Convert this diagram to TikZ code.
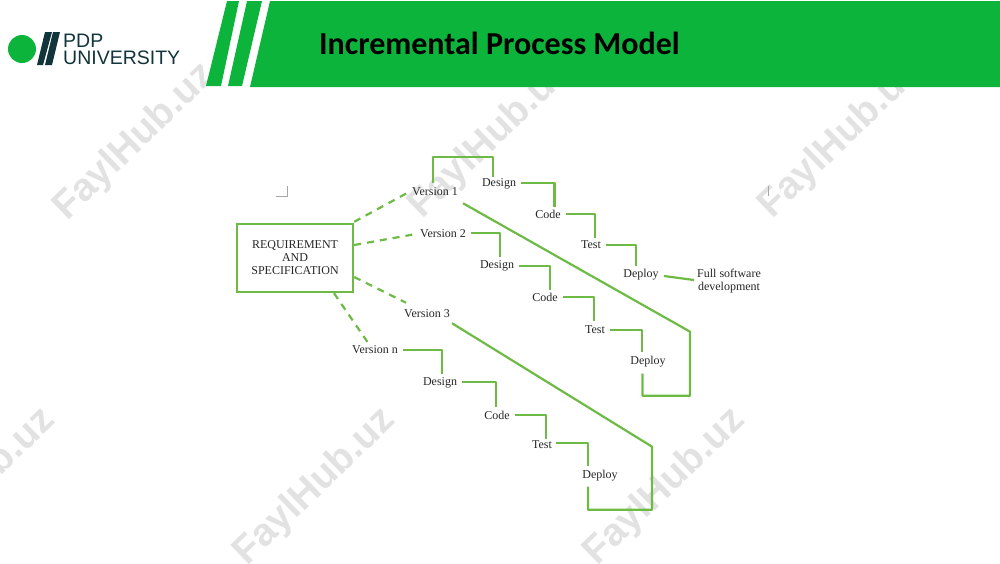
\documentclass[tikz,border=0pt]{standalone}
\usepackage{fontspec}
\setmainfont{Liberation Serif}
\newfontfamily\titlefont{Carlito}
\newfontfamily\logofont{Liberation Sans}
\usetikzlibrary{calc}
\definecolor{headgreen}{HTML}{0CB43C}
\definecolor{logodark}{HTML}{12343B}
\definecolor{linegreen}{HTML}{6DBB45}
\definecolor{markgray}{HTML}{E2E2E2}
\tikzset{
  flow/.style={draw=linegreen,line width=2.2pt,line join=round},
  link/.style={draw=linegreen,line width=2.2pt,dash pattern=on 7pt off 6pt},
  label/.style={font=\fontsize{12}{13}\selectfont,text=black!85,inner sep=0pt,align=center},
  stamp/.style={font=\logofont\bfseries\fontsize{39}{39}\selectfont,text=markgray,rotate=44,inner sep=0pt},
  tick/.style={draw=black!35,line width=.5pt}
}
\begin{document}
\begin{tikzpicture}[x=1pt,y=-1pt]
\useasboundingbox (0,0) rectangle (1000,563);

% watermark
\foreach \x/\y in {135/142,490/140,840/140,-25/487,315/487,665/487} {
  \node[stamp] at (\x,\y) {FaylHub.uz};
}

% header
\fill[headgreen] (270,1) -- (1000,1) -- (1000,87) -- (250,87) -- cycle;
\fill[headgreen] (227,1) -- (239,1) -- (221,86) -- (206,86) -- cycle;
\fill[headgreen] (247,1) -- (262,1) -- (242,86) -- (228,86) -- cycle;
\node[font=\titlefont\bfseries\fontsize{32}{32}\selectfont,inner sep=0pt] (title) at (499.5,43) {Incremental Process Model};

% logo
\fill[headgreen] (22,49) circle (14);
\fill[logodark] (45,32) -- (52,32) -- (43,65) -- (37,65) -- cycle;
\fill[logodark] (53,32) -- (60,32) -- (52,65) -- (45,65) -- cycle;
\node[font=\logofont\fontsize{19.5}{19.5}\selectfont,text=logodark,anchor=base west,inner sep=0pt] (pdp) at (63,47) {PDP};
\node[font=\logofont\fontsize{19.5}{19.5}\selectfont,text=logodark,anchor=base west,inner sep=0pt] (univ) at (63,64) {UNIVERSITY};

% corner marks
\draw[tick] (276,196) -- (287,196) -- (287,186);
\draw[tick] (768,196) -- (768,186);

% requirement box
\node[label,draw=linegreen,line width=2.4pt,minimum width=116pt,minimum height=68pt] (req) at (295,258) {REQUIREMENT\\AND\\SPECIFICATION};

% versions
\node[label] (v1) at (435,192) {Version 1};
\node[label] (v2) at (443,234) {Version 2};
\node[label] (v3) at (427,314) {Version 3};
\node[label] (vn) at (375,350) {Version n};

\foreach \name/\px/\py in {d1/499/184,c1/548/214,t1/591/245,p1/641/275,
    d2/497/266,c2/545/297,t2/595/330,p2/648/362,
    d3/440/383,c3/497/415,t3/542/445,p3/600/476} {
  \coordinate (\name) at (\px,\py);
}
\node[label] (d1) at (d1) {Design};
\node[label] (c1) at (c1) {Code};
\node[label] (t1) at (t1) {Test};
\node[label] (p1) at (p1) {Deploy};
\node[label] (d2) at (d2) {Design};
\node[label] (c2) at (c2) {Code};
\node[label] (t2) at (t2) {Test};
\node[label] (p2) at (p2) {Deploy};
\node[label] (d3) at (d3) {Design};
\node[label] (c3) at (c3) {Code};
\node[label] (t3) at (t3) {Test};
\node[label] (p3) at (p3) {Deploy};
\node[label] (full) at (729,281) {Full software\\development};

% dashed links
\draw[link] ([yshift=1pt]req.north east) -- ([xshift=-3pt]v1.west);
\draw[link] ([yshift=13pt]req.east) -- ([xshift=-4pt]v2.west);
\draw[link] ([yshift=-19pt]req.east) -- ([xshift=-21pt,yshift=7pt]v3.north);
\draw[link] ([xshift=39pt]req.south) -- ([xshift=-7pt,yshift=3pt]vn.north);

% version 1
\draw[flow] ([xshift=-2pt,yshift=5pt]v1.north) -- (433,157) -| ([xshift=-6pt,yshift=2pt]d1.north);
\draw[flow] ([xshift=5pt,yshift=1pt]d1.east) -| ([xshift=6.5pt,yshift=3pt]c1.north);
\draw[flow] ([xshift=5pt]c1.east) -| ([xshift=4pt,yshift=3pt]t1.north);
\draw[flow] ([xshift=5pt]t1.east) -| ([xshift=-5pt,yshift=3pt]p1.north);
\draw[flow] ([xshift=5pt,yshift=-1pt]p1.east) -- ([yshift=-5pt,xshift=-3pt]full.north west |- p1.east);

% version 2
\draw[flow] ([xshift=5pt,yshift=1pt]v2.east) -| ([xshift=3pt,yshift=4pt]d2.north);
\draw[flow] ([xshift=5pt]d2.east) -| ([xshift=5pt,yshift=3pt]c2.north);
\draw[flow] ([xshift=5pt]c2.east) -| ([xshift=-1pt,yshift=5pt]t2.north);
\draw[flow] ([xshift=5pt]t2.east) -| ([xshift=-6pt,yshift=4pt]p2.north);
\draw[flow] ([xshift=-5.5pt,yshift=-6pt]p2.south) -- ++(0,22) -- ++(47.5,0) -- ++(0,-64) -- ([xshift=5pt,yshift=-7pt]v1.south east);

% version 3
\draw[flow] ([xshift=5pt]vn.east) -| ([xshift=2pt,yshift=4pt]d3.north);
\draw[flow] ([xshift=5pt,yshift=1pt]d3.east) -| ([xshift=-1pt,yshift=4pt]c3.north);
\draw[flow] ([xshift=5pt]c3.east) -| ([xshift=4pt,yshift=2pt]t3.north);
\draw[flow] ([xshift=4pt,yshift=2pt]t3.east) -| ([xshift=-12pt,yshift=4pt]p3.north);
\draw[flow] ([xshift=-12pt,yshift=-5pt]p3.south) -- ++(0,23) -- ++(64,0) -- ++(0,-63) -- ([xshift=2pt,yshift=-5pt]v3.south east);

\end{tikzpicture}
\end{document}
